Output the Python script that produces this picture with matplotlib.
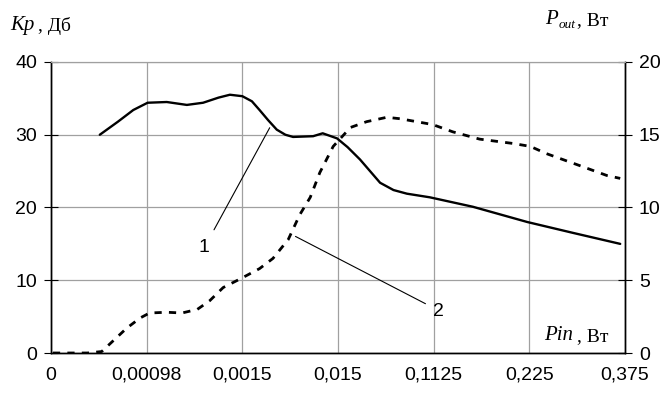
import matplotlib.pyplot as plt

plt.rcParams['font.family'] = ['Liberation Sans', 'DejaVu Sans']

# categories on the x axis (equally spaced)
pin_labels = ['0', '0,00098', '0,0015', '0,015', '0,1125', '0,225', '0,375']

# curve 1: Kp (dB), left axis; x given as position between the categories
kp_x = [0.51, 0.70, 0.86, 1.01, 1.21, 1.42, 1.59, 1.75, 1.87, 2.0, 2.10, 2.18,
        2.27, 2.36, 2.45, 2.53, 2.74, 2.84, 2.99, 3.10, 3.23, 3.44, 3.58, 3.72,
        3.96, 4.41, 4.98, 5.46, 5.95]
kp_y = [30, 31.8, 33.4, 34.4, 34.5, 34.1, 34.4, 35.1, 35.5, 35.3, 34.6, 33.4,
        32.0, 30.7, 30.0, 29.7, 29.8, 30.2, 29.5, 28.3, 26.6, 23.4, 22.4, 21.9,
        21.4, 20.1, 18.0, 16.5, 15.0]

# curve 2: Pout (W), right axis
pout_x = [0.02, 0.38, 0.53, 0.79, 0.93, 1.03, 1.21, 1.37, 1.53, 1.66, 1.80, 1.98,
          2.18, 2.32, 2.48, 2.60, 2.71, 2.81, 2.95, 3.13, 3.30, 3.51, 3.65, 3.99,
          4.20, 4.48, 4.83, 5.01, 5.18, 5.56, 5.81, 5.95]
pout_y = [0, 0, 0.1, 1.7, 2.4, 2.75, 2.8, 2.75, 3.0, 3.6, 4.5, 5.1,
          5.8, 6.5, 7.8, 9.5, 10.7, 12.4, 14.2, 15.5, 15.9, 16.2, 16.1, 15.7,
          15.2, 14.7, 14.4, 14.2, 13.7, 12.8, 12.2, 12.0]

fig = plt.figure(figsize=(6.63, 3.94), dpi=100)
ax = fig.add_axes([51/663, 41/394, 574/663, 291/394])
ax2 = ax.twinx()

ax.set_xlim(0, 6)
ax.set_ylim(0, 40)
ax2.set_ylim(0, 20)

ax.set_xticks(range(len(pin_labels)))
ax.set_xticklabels(pin_labels)
ax.set_yticks([0, 10, 20, 30, 40])
ax2.set_yticks([0, 5, 10, 15, 20])

ax.grid(True, color='#a0a0a0', lw=0.9)
ax.set_axisbelow(True)

for a in (ax, ax2):
    a.spines['top'].set_color('#a0a0a0')
    a.spines['left'].set_linewidth(1.0)
    a.spines['right'].set_linewidth(1.0)
    a.spines['bottom'].set_linewidth(1.0)
    a.tick_params(labelsize=14)

ax.tick_params(axis='x', length=0, pad=10)
ax.tick_params(axis='y', direction='inout', length=10, pad=5)
ax2.tick_params(axis='y', direction='inout', length=10, pad=5)

ax.plot(kp_x, kp_y, color='black', lw=1.7, solid_capstyle='round',
        solid_joinstyle='round')
ax2.plot(pout_x, pout_y, color='black', lw=2.0, linestyle=(0, (2.6, 2.6)))

# leader lines and curve numbers
ax.annotate('', xy=(2.3, 31.3), xytext=(1.69, 16.6),
            arrowprops=dict(arrowstyle='-', color='black', lw=0.8))
ax.text(1.6, 14.5, '1', fontsize=14, ha='center', va='center')
ax.annotate('', xy=(2.53, 16.2), xytext=(3.94, 6.6),
            arrowprops=dict(arrowstyle='-', color='black', lw=0.8))
ax.text(4.05, 5.7, '2', fontsize=14, ha='center', va='center')

serif = 'Liberation Serif'


def after(prev, s, dx=2, dy=0, **kw):
    # text placed just to the right of the previous piece
    return fig.add_artist(plt.Annotation(s, xy=(1, 0), xycoords=prev,
                                         xytext=(dx, dy), textcoords='offset pixels',
                                         va='bottom', family=serif, **kw))


kp = fig.text(10/663, 1 - 30/394, 'Kp', fontsize=15, family=serif, style='italic')
after(kp, ', Дб', dx=4, fontsize=14)

p = fig.text(545/663, 1 - 24/394, 'P', fontsize=15, family=serif, style='italic')
o = after(p, 'out', dx=1, dy=-2, fontsize=9.5, style='italic')
after(o, ', Вт', dx=1, dy=2, fontsize=14)

pin = fig.text(544/663, 1 - 340/394, 'Pin', fontsize=15, family=serif, style='italic')
after(pin, ', Вт', dx=4, fontsize=14)

fig.savefig('out.png', dpi=100)
